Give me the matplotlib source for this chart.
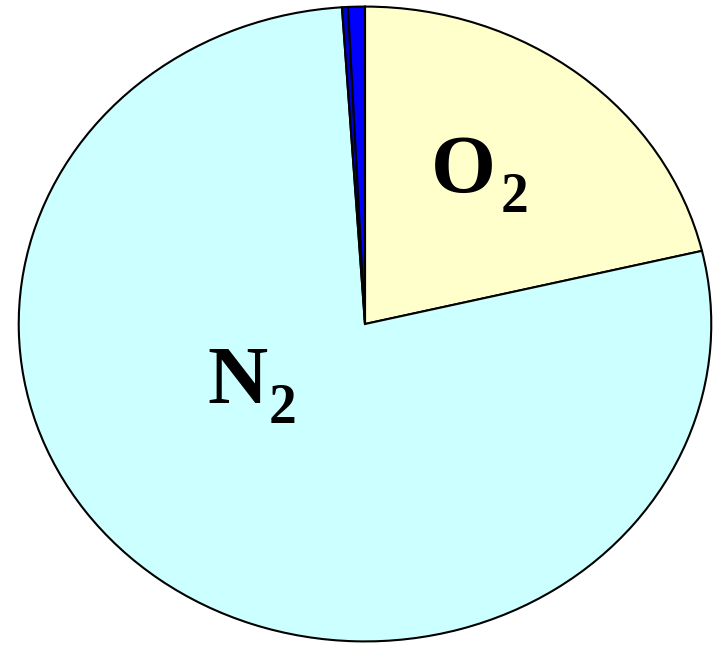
import matplotlib
matplotlib.use("Agg")
import matplotlib.pyplot as plt

gases = ["O2", "N2", "Trace", "Ar"]
percent = [21.3, 77.64, 0.28, 0.78]
colors = ["#FFFFCC", "#CCFFFF", "#0000CC", "#0000FF"]

W, H = 717, 647
fig = plt.figure(figsize=(W / 100, H / 100), dpi=100)
ax = fig.add_axes([17 / W, (H - 643) / H, 696 / W, 638 / H])
ax.pie(percent, colors=colors, startangle=90, counterclock=False,
       wedgeprops=dict(edgecolor="black", linewidth=1.5))
ax.set_aspect("auto")
ax.set_xlim(-1.005, 1.005)
ax.set_ylim(-1.005, 1.005)
ax.axis("off")

def label(main, sub, x, y, xs, ys):
    fig.text(x / W, 1 - y / H, main, family="Liberation Serif", weight="bold",
             fontsize=60, ha="left", va="baseline")
    fig.text(xs / W, 1 - ys / H, sub, family="Liberation Serif", weight="bold",
             fontsize=40, ha="left", va="baseline")

label("O", "2", 431, 192, 501, 212)
label("N", "2", 207, 403, 269, 423)

fig.savefig("out.png", dpi=100)
